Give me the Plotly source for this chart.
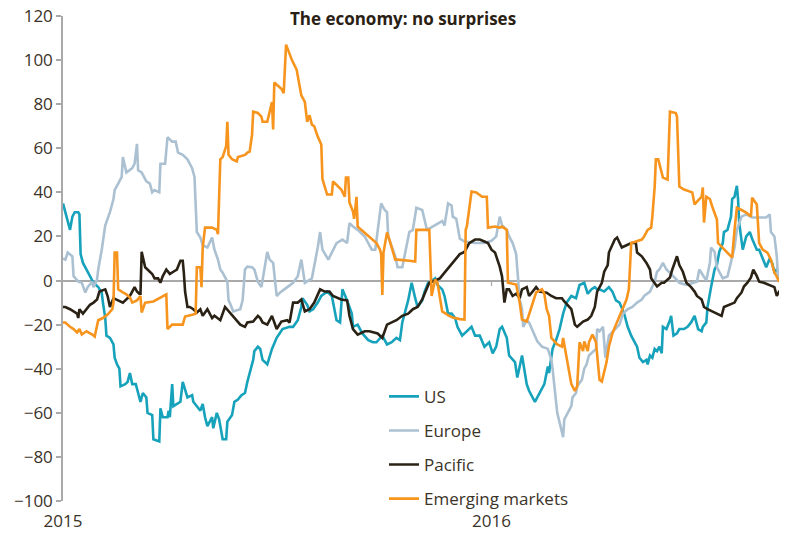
import pandas as pd
import plotly.graph_objects as go

START = "2015-01-01"

# (days since 1 Jan 2015, index value)
US = [(0,35),(2,30),(3,29),(6,23),(8,29),(10,31),(13,31),(14,30),(15,12),(17,8),(20,5),(23,2),(26,-1),(30,-3),
      (33,-5.5),(34,-10),(36,-17),(37,-25),(40,-26),(43,-29),(44,-35),(46,-38),(48,-40),(49,-48),(53,-47),(55,-46),
      (57,-42),(59,-47),(62,-47),(64,-51),(66,-55),(68,-51),(71,-53),(72,-60),(76,-61),(77,-72),(82,-73),(83,-58),
      (85,-62),(89,-62),(90,-59),(91,-62),(93,-47),(94,-57),(97,-56),(100,-55),(102,-46),(105,-52),(106,-53),
      (110,-52),(111,-55),(114,-57),(117,-59),(119,-56),(121,-62),(123,-66),(127,-62),(128,-67),(131,-60),(133,-63),
      (136,-72),(139,-72),(140,-64),(144,-61),(146,-55),(149,-54),(152,-52),(155,-51),(157,-46),(162,-36),(163,-32),
      (166,-30),(168,-31),(170,-36),(174,-38),(178,-31),(182,-26),(187,-22),(193,-21),(196,-21),(200,-18),(203,-12),
      (204,-8),(208,-11),(210,-14),(213,-13),(217,-10),(220,-7),(225,-5),(229,-7),(233,-18),(236,-19),(238,-4),
      (242,-9),(246,-15),(247,-21),(251,-20),(255,-24),(260,-27),(264,-28),(267,-28),(272,-25),(276,-29),(280,-28),
      (284,-26),(287,-27),(289,-19),(294,-9),(297,-1),(300,-8),(302,-12),(306,-9),(308,-5),(311,-1),(312,-1),(317,1),
      (319,-2),(323,-4),(325,-7),(328,-15),(331,-15),(334,-17),(336,-21),(340,-25),(344,-23),(348,-21),(351,-25),
      (355,-25),(359,-30),(363,-28),(366,-33),(369,-30),(372,-22),(374,-21),(378,-26),(380,-34),(385,-37),(387,-44),
      (391,-34),(395,-47),(397,-50),(402,-55),(404,-53),(408,-49),(410,-47),(413,-39),(414,-42),(417,-31),(420,-27),
      (423,-22),(426,-15),(429,-10),(433,-7),(437,-8),(440,-2),(444,-1),(447,-6),(450,-4),(453,-3),(455,-4),(457,-4),
      (461,-5),(465,-3),(468,-5),(471,-9),(474,-10),(476,-13),(478,-15),(481,-21),(484,-25),(487,-28),(489,-30),
      (491,-35),(494,-37),(497,-36),(498,-38),(500,-34),(502,-35),(504,-31),(506,-32),(508,-30),(510,-33),(511,-21),
      (514,-22),(517,-18),(518,-16),(520,-25),(523,-24),(525,-22),(529,-22),(532,-21),(535,-19),(538,-16),(541,-22),
      (544,-23),(545,-21),(548,-19),(549,-12),(552,-3),(555,5),(557,7),(559,13),(562,17),(563,22),(566,23),(569,29),
      (570,37),(572,38),(574,43),(575,37),(576,26),(578,17),(579,14),(582,20),(585,22),(587,19),(591,14),(593,14),
      (596,10),(599,6),(602,10),(604,8),(606,4),(608,5),(610,2),(612,1),(613,1)]

EUROPE = [(0,10),(2,9.5),(4,12.7),(8,11),(9,2),(13,-0.5),(16,-1),(19,-5.4),(21,-3),(25,-0.5),(26,-3),(29,0.5),(30,5),
          (33,14),(36,25),(38,28),(40,31),(43,37),(44,41),(47,44),(50,47),(51,56),(54,49),(59,51),(61,53),(63,62),
          (64,50),(67,49),(71,45),(74,44),(76,40),(78,41),(82,40),(83,53),(87,53),(89,65),(93,63),(96,63),(98,58),
          (102,57),(106,55),(110,51),(112,47),(114,22),(117,19.5),(119,16),(123,15),(127,19.5),(129,14),(132,9.5),
          (134,5),(136,3.6),(140,-0.5),(141,-9),(142,-10),(145,-14),(151,-13),(153,-9),(155,5),(157,6.3),(161,6),
          (163,5),(166,-0.5),(169,-3),(174,13),(176,9.5),(179,8),(182,-7),(185,-5.4),(191,-3),(196,-1),(200,2),
          (203,9.5),(206,-1),(212,1),(217,15),(219,22),(221,14),(226,9.5),(233,17),(238,18.6),(242,17),(244,26),
          (247,24.5),(251,23),(257,20),(260,17),(263,14),(266,14),(271,35),(274,32),(276,31),(277,20),(280,15),
          (283,11),(285,6),(289,6),(295,22),(298,23),(301,33),(306,32),(310,23),(315,24.5),(323,27),(325,25),
          (328,35),(331,34),(332,29),(335,28),(338,19),(342,17.7),(351,17),(359,17),(365,18),(369,20),(372,29),
          (374,25),(378,23),(380,20),(383,17),(386,12),(387,3.6),(389,-8.6),(391,-13),(392,-21),(395,-18),(397,-19),
          (404,-27.6),(408,-30),(413,-31),(416,-36),(417,-40),(419,-52),(420,-55),(421,-60),(423,-64),(426,-71),
          (427,-63),(430,-60),(433,-57),(434,-53),(437,-51),(438,-48),(442,-45),(444,-40),(446,-38),(448,-34),
          (454,-31),(455,-22),(457,-23),(460,-21),(462,-35),(465,-25),(470,-22),(474,-20),(477,-15),(481,-13),
          (485,-12),(489,-10),(493,-8.6),(495,-7),(500,-5),(504,-0.5),(506,4),(508,5),(511,8),(514,5),(518,3),
          (525,-1),(531,-2),(540,-0.5),(542,5),(548,0),(551,8),(552,15),(555,13),(557,6),(562,1),(566,1.8),(572,15),
          (574,23),(578,29),(582,30),(587,28.6),(599,28.6),(602,30),(603,22),(606,20),(608,11),(609,2),(612,1),(613,0)]

PACIFIC = [(0,-12),(2,-12),(6,-13),(9,-14),(12,-15),(13,-17),(14,-13),(17,-15),(20,-13),(23,-11),(26,-10),(29,-8.6),
           (31,-5),(36,-4),(38,-7),(40,-12),(43,-8),(47,-9),(51,-10),(57,-7),(61,-3),(63,-5),(65,-6),(66,-6),(67,13),
           (70,6),(72,5),(76,3),(78,1),(81,1),(83,-1),(85,2),(88,5),(91,3),(94,4),(97,5),(100,9),(102,9),(103,3),
           (104,-5),(106,-12),(108,-12),(111,-13),(114,-14.5),(117,-13),(119,-16),(123,-13),(127,-17),(129,-16),
           (134,-18),(138,-12),(142,-14.5),(146,-17),(151,-20),(155,-21),(157,-19),(162,-18.6),(166,-16),(168,-17),
           (170,-19),(174,-20),(178,-16),(182,-22),(186,-18.6),(191,-18),(193,-19),(196,-10),(200,-10),(203,-8.6),
           (206,-14),(210,-13),(214,-10),(219,-4),(223,-5),(227,-5),(230,-7),(237,-8.6),(242,-9),(244,-16),(247,-22),
           (251,-24.5),(257,-23),(261,-23),(268,-24),(272,-26),(276,-20),(280,-19),(284,-18),(289,-16),(294,-15),
           (298,-13),(302,-12),(306,-8.6),(310,-4),(312,-1),(317,0),(321,1),(325,3.6),(329,6.3),(334,9.5),(338,12),
           (342,13),(344,15),(346,17),(351,18.6),(355,18.6),(359,17.7),(362,17),(365,14),(368,12.7),(370,9.5),
           (372,6.3),(374,1.8),(376,-10),(378,-4),(380,-4),(383,-7),(386,-6),(389,-8),(391,-4),(395,-3),(397,-7),
           (403,-3),(406,-5),(412,-5.5),(416,-7),(420,-8),(425,-8),(427,-9.5),(433,-13),(436,-20),(438,-21),
           (443,-18.6),(447,-17.7),(450,-16),(453,-12),(455,-5),(459,-1),(461,4),(464,7),(465,12.7),(470,18.6),
           (472,19.5),(476,15),(480,16),(484,17),(488,17),(489,12.7),(493,11),(497,8),(500,5),(501,1),(506,-2.7),
           (510,-1),(512,-1),(517,1.4),(519,5),(521,8),(523,11),(525,7),(528,4),(531,-1),(535,-3),(538,-5),(540,-7),
           (544,-8.6),(546,-12),(549,-13),(553,-14),(557,-15),(561,-16),(563,-12),(568,-11),(572,-10),(574,-8),
           (578,-5.4),(580,-2.7),(583,-1),(586,1.4),(588,5),(591,2),(593,-0.5),(597,-1),(602,-2),(606,-3),(608,-7),
           (610,-5),(613,-5)]

EMERGING = [(0,-19),(2,-19),(6,-21),(9,-22),(12,-23.6),(14,-22),(16,-24.5),(20,-23),(25,-24.5),(27,-25.4),(30,-18),
            (34,-17),(38,-15.4),(42,-13),(43,-10),(44,12.7),(46,12.7),(47,-4),(51,-5.4),(54,-6.3),(57,-7.7),(59,-10),
            (63,-9),(66,-7),(67,-14.5),(70,-10),(77,-9.5),(80,-8.6),(85,-7),(88,-6.3),(89,-22),(93,-20),(102,-20),
            (104,-16.3),(111,-15.4),(113,-15),(114,6),(117,6),(118,-3),(119,15),(121,24),(127,24),(131,23),(132,21),
            (134,55),(136,56),(139,61),(140,72),(141,57),(144,55),(148,54),(149,56),(155,57),(157,58),(159,58.5),
            (161,66),(162,76.6),(166,76),(169,74.4),(170,72),(174,72),(178,81),(179,68.5),(180,89.8),(186,87),(188,85),
            (190,107),(191,105.7),(195,100),(199,95.7),(203,84),(206,81),(208,72),(210,75),(212,70.7),(214,70),
            (217,65.3),(220,61.7),(221,46),(225,39),(229,39),(230,45),(234,42.6),(237,41.3),(240,38),(241,46.7),
            (243,46.7),(244,35.4),(247,31.3),(248,28),(250,38),(251,24.5),(254,23),(263,18.6),(267,17),(270,14),
            (271,12),(272,-6.5),(273,12.7),(276,21.8),(278,18.6),(283,9.5),(285,9.5),(295,9),(300,8.6),(301,23),
            (312,23),(314,-7),(317,0.5),(319,-1),(323,-14),(329,-16),(332,-16.8),(338,-17.5),(342,-17.7),(343,23),
            (344,24.5),(348,40.4),(352,40),(357,38),(361,38),(362,24),(368,24.5),(372,24),(374,24.5),(378,23),(379,-1),
            (386,-1.8),(389,-10),(391,-17.7),(395,-18.6),(397,-15.4),(403,-5.4),(408,-4),(410,-6),(412,-13),(414,-16),
            (416,-26),(421,-29),(425,-30),(426,-26),(429,-35),(433,-47),(436,-50),(438,-48),(440,-28),(443,-32),
            (444,-27.6),(447,-32),(448,-28),(451,-24.5),(454,-28),(455,-35),(457,-45),(459,-45.8),(461,-41.7),
            (463,-37),(465,-30),(468,-24),(471,-20),(474,-16.3),(477,-13),(480,-8.6),(482,-4),(484,17),(488,17.7),
            (493,18.6),(495,20),(498,23),(501,24),(502,29),(504,42.6),(505,55),(507,55),(510,49),(511,46.7),(515,45.8),
            (517,76.6),(522,76),(523,74.4),(525,42.6),(529,41.3),(536,40),(538,34.5),(540,35.8),(544,38),(545,42.2),
            (546,26.3),(548,38),(551,37),(553,33.6),(557,27.7),(558,17),(561,15.4),(563,14),(566,12.7),(569,11),
            (570,10.4),(572,23),(574,33),(578,32),(582,30.8),(586,29),(587,37.6),(591,34.5),(593,17),(596,14),
            (600,12.7),(603,9.5),(606,3.6),(608,1.8),(610,-0.5),(612,1.8),(614,1.8)]

SERIES = [("US", US, "#17a2bb"), ("Europe", EUROPE, "#abc1d2"),
          ("Pacific", PACIFIC, "#2b2216"), ("Emerging markets", EMERGING, "#f7941d")]

Y_TICKS = list(range(-100, 121, 20))
X_TICKS = ["2015-01-01", "2016-01-01"]
X_TICK_LABELS = ["2015", "2016"]

FONT = "Open Sans"
TEXT = "#3b3328"
GREY = "#a9a9a9"

# the page body has an 8px default margin, so the figure is 8px smaller each way
W, H = 779, 530

start = pd.Timestamp(START)
fig = go.Figure()
for name, pts, color in SERIES:
    days = [p[0] for p in pts]
    vals = [p[1] for p in pts]
    dates = [start + pd.Timedelta(days=d) for d in days]
    fig.add_trace(go.Scatter(x=dates, y=vals, mode="lines", name=name, legendgroup=name,
                             line=dict(color=color, width=2.6), hoverinfo="skip"))

fig.add_shape(type="line", xref="x", yref="y", x0="2016-01-01", x1="2016-01-01", y0=0, y1=-2.5,
              line=dict(color=GREY, width=1.2))

fig.update_layout(
    width=W, height=H,
    margin=dict(l=55, r=2, t=8, b=37, autoexpand=False),
    paper_bgcolor="white", plot_bgcolor="white",
    font=dict(family=FONT, size=17, color=TEXT),
    title=dict(text="<b>The economy: no surprises</b>", x=(403 - 8) / W, xanchor="center",
               y=1 - 11 / H, yanchor="middle", font=dict(family=FONT, size=17, color="#2a2114")),
    showlegend=True,
    legend=dict(x=0.4446, xanchor="left", y=0.252, yanchor="top", traceorder="grouped",
                tracegroupgap=9, bgcolor="rgba(0,0,0,0)", font=dict(size=17, color=TEXT),
                itemwidth=30),
    xaxis=dict(type="date", range=["2015-01-01", "2016-09-07"], showgrid=False, zeroline=False,
               showline=False, ticks="", tickvals=X_TICKS, ticktext=X_TICK_LABELS,
               ticklabelstandoff=8, automargin=False, ticklabeloverflow="allow",
               tickfont=dict(size=17, color=TEXT)),
    yaxis=dict(range=[-100, 120], tickvals=Y_TICKS, showgrid=False, zeroline=True, automargin=False,
               ticklabeloverflow="allow",
               zerolinecolor=GREY, zerolinewidth=1.5, showline=True, linecolor=GREY, linewidth=1.5,
               ticks="outside", ticklen=5, tickcolor=GREY, tickwidth=1.5,
               tickfont=dict(size=17, color=TEXT)),
)

fig.write_html("out.html")
